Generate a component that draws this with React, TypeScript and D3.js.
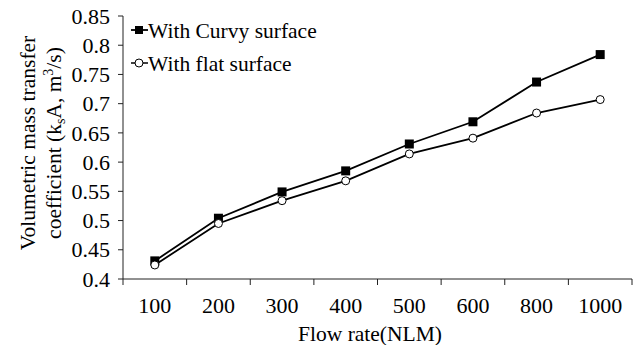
import React from "react";
import * as d3 from "d3";

const categories = ["100", "200", "300", "400", "500", "600", "800", "1000"];
const curvy = [0.431, 0.504, 0.549, 0.585, 0.631, 0.669, 0.737, 0.784];
const flat = [0.424, 0.495, 0.534, 0.568, 0.614, 0.641, 0.684, 0.707];
const yTicks = [0.4, 0.45, 0.5, 0.55, 0.6, 0.65, 0.7, 0.75, 0.8, 0.85];
const seriesNames = ["With Curvy surface", "With flat surface"];

const W = 642, H = 345;
const left = 123, right = 632, top = 16, bottom = 279;
const font = "'Liberation Serif', 'Times New Roman', serif";
const fs = 21.5;

export default function App() {
  const x = d3.scaleBand().domain(categories).range([left, right]);
  const y = d3.scaleLinear().domain([0.4, 0.85]).range([bottom, top]);
  const line = d3.line<number>().x((_, i) => x(categories[i])! + x.bandwidth() / 2).y(d => y(d));
  const fmt = (v: number) => String(+v.toFixed(2));
  const tickPositions = [...categories.map(c => x(c)!), right];
  return (
    <svg width={W} height={H} style={{ position: "absolute", left: 0, top: 0, background: "#fff" }}>
      <rect width={W} height={H} fill="#fff" />
      <line x1={left} x2={left} y1={top} y2={bottom} stroke="#222" strokeWidth={1} />
      <line x1={left} x2={right} y1={bottom} y2={bottom} stroke="#222" strokeWidth={1} />
      {yTicks.map(t => (
        <g key={t}>
          <line x1={left - 5} x2={left} y1={y(t)} y2={y(t)} stroke="#222" />
          <text x={110} y={y(t)} dy="0.35em" textAnchor="end" fontFamily={font} fontSize={22} fill="#000">{fmt(t)}</text>
        </g>
      ))}
      {tickPositions.map((p, i) => (
        <line key={i} x1={p} x2={p} y1={bottom} y2={bottom + 6} stroke="#222" />
      ))}
      {categories.map(c => (
        <text key={c} x={x(c)! + x.bandwidth() / 2} y={305} dy="0.35em" textAnchor="middle" fontFamily={font} fontSize={22} fill="#000">{c}</text>
      ))}
      <text x={370} y={333} dy="0.35em" textAnchor="middle" fontFamily={font} fontSize={fs} fill="#000">Flow rate(NLM)</text>
      <g transform="translate(27,143) rotate(-90)">
        <text x={0} y={0} dy="0.35em" textAnchor="middle" fontFamily={font} fontSize={fs} fill="#000">Volumetric mass transfer</text>
      </g>
      <g transform="translate(53,143) rotate(-90)">
        <text x={0} y={0} dy="0.35em" textAnchor="middle" fontFamily={font} fontSize={fs} fill="#000">
          coefficient (k<tspan fontSize={14} dy="4">s</tspan><tspan dy="-4">A, m</tspan><tspan fontSize={14} dy="-8">3</tspan><tspan dy="8">/s)</tspan>
        </text>
      </g>
      <path d={line(curvy)!} fill="none" stroke="#000" strokeWidth={1.8} />
      <path d={line(flat)!} fill="none" stroke="#000" strokeWidth={1.8} />
      {curvy.map((v, i) => (
        <rect key={i} x={x(categories[i])! + x.bandwidth() / 2 - 4.5} y={y(v) - 4.5} width={9} height={9} fill="#000" />
      ))}
      {flat.map((v, i) => (
        <circle key={i} cx={x(categories[i])! + x.bandwidth() / 2} cy={y(v)} r={4} fill="#fff" stroke="#000" strokeWidth={1} />
      ))}
      <g>
        <line x1={131} x2={148} y1={30} y2={30} stroke="#000" strokeWidth={1.8} />
        <rect x={135} y={26} width={8} height={8} fill="#000" />
        <text x={148} y={30} dy="0.35em" fontFamily={font} fontSize={fs} fill="#000">{seriesNames[0]}</text>
        <line x1={131} x2={148} y1={63} y2={63} stroke="#000" strokeWidth={1.5} />
        <circle cx={139} cy={63} r={4} fill="#fff" stroke="#000" />
        <text x={148} y={63} dy="0.35em" fontFamily={font} fontSize={fs} fill="#000">{seriesNames[1]}</text>
      </g>
    </svg>
  );
}
